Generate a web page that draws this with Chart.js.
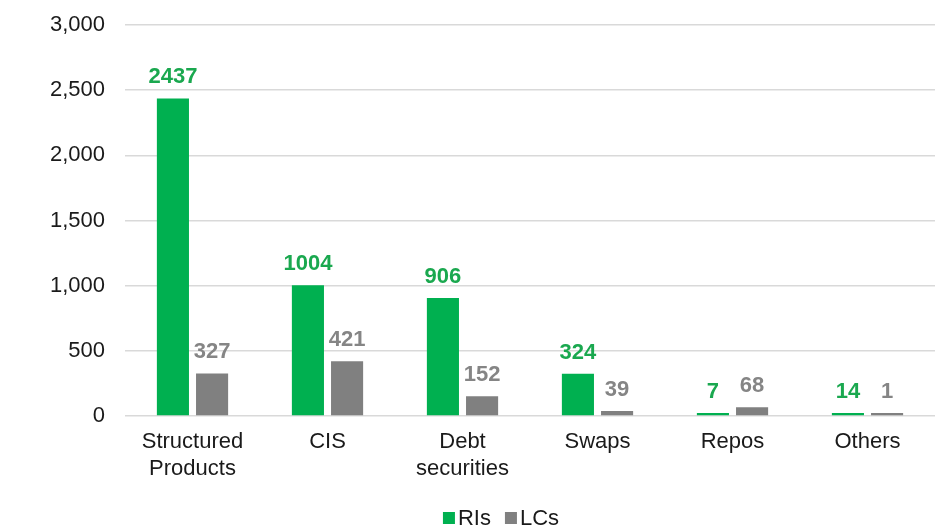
<!DOCTYPE html>
<html>
<head>
<meta charset="utf-8">
<script src="https://cdn.jsdelivr.net/npm/chart.js@4/dist/chart.umd.min.js"></script>
<style>
  html, body { margin: 0; padding: 0; background: #ffffff; }
  #wrap { width: 950px; height: 530px; }
</style>
</head>
<body>
<div id="wrap"><canvas id="c" width="950" height="530"></canvas></div>
<script>
// Product categories and counts per entity type
const categories = [['Structured', 'Products'], 'CIS', ['Debt', 'securities'], 'Swaps', 'Repos', 'Others'];
const riValues = [2437, 1004, 906, 324, 7, 14];
const lcValues = [327, 421, 152, 39, 68, 1];
const yTicks = [0, 500, 1000, 1500, 2000, 2500, 3000];

const GREEN = '#00b050';
const GREY = '#808080';
const FONT = "'Liberation Sans', Arial, sans-serif";
const TEXT = '#1a1a1a';

// Writes each bar's value above it, in the bar's own colour
const valueLabels = {
  id: 'valueLabels',
  afterDatasetsDraw(chart) {
    const ctx = chart.ctx;
    ctx.save();
    ctx.font = 'bold 22px ' + FONT;
    ctx.textAlign = 'center';
    ctx.textBaseline = 'alphabetic';
    chart.data.datasets.forEach((ds, i) => {
      const meta = chart.getDatasetMeta(i);
      ctx.fillStyle = ds.labelColor;
      meta.data.forEach((bar, j) => {
        ctx.fillText(String(ds.data[j]), bar.x, bar.y - 15);
      });
    });
    ctx.restore();
  }
};

// Compact legend under the axis: small square followed closely by the series name
const compactLegend = {
  id: 'compactLegend',
  afterDraw(chart) {
    const ctx = chart.ctx;
    const box = 12, gapText = 3, gapItem = 14, cy = 518;
    ctx.save();
    ctx.font = '22px ' + FONT;
    ctx.textBaseline = 'middle';
    const items = chart.data.datasets.map(ds => ({
      label: ds.label, color: ds.backgroundColor, w: ctx.measureText(ds.label).width
    }));
    const total = items.reduce((s, it) => s + box + gapText + it.w, 0) + gapItem * (items.length - 1);
    let x = 501 - total / 2;
    items.forEach(it => {
      ctx.fillStyle = it.color;
      ctx.fillRect(x, cy - box / 2, box, box);
      x += box + gapText;
      ctx.fillStyle = TEXT;
      ctx.fillText(it.label, x, cy + 1);
      x += it.w + gapItem;
    });
    ctx.restore();
  }
};

new Chart(document.getElementById('c'), {
  type: 'bar',
  data: {
    labels: categories,
    datasets: [
      { label: 'RIs', data: riValues, backgroundColor: GREEN, labelColor: '#1aa84f', minBarLength: 3,
        categoryPercentage: 0.58, barPercentage: 0.82 },
      { label: 'LCs', data: lcValues, backgroundColor: GREY, labelColor: '#858585', minBarLength: 3,
        categoryPercentage: 0.58, barPercentage: 0.82 }
    ]
  },
  options: {
    responsive: false,
    animation: false,
    devicePixelRatio: 1,
    layout: { padding: { top: 25, right: 15, bottom: 40, left: 0 } },
    plugins: {
      tooltip: { enabled: false },
      legend: { display: false }
    },
    scales: {
      x: {
        grid: { display: false, drawTicks: false },
        border: { display: false },
        ticks: {
          font: { family: FONT, size: 22 },
          color: TEXT,
          padding: 13,
          maxRotation: 0,
          autoSkip: false
        },
        afterFit(scale) { scale.height = 74; }
      },
      y: {
        min: 0,
        max: 3000,
        afterBuildTicks(scale) { scale.ticks = yTicks.map(v => ({ value: v })); },
        grid: { color: '#d9d9d9', lineWidth: 1.5, drawTicks: false },
        border: { display: false },
        ticks: {
          font: { family: FONT, size: 22 },
          color: TEXT,
          padding: 20,
          callback: v => v.toLocaleString('en-US')
        },
        afterFit(scale) {
          scale.width = 125;
          scale.paddingTop = 0;
          scale.paddingBottom = 0;
        }
      }
    }
  },
  plugins: [valueLabels, compactLegend]
});
</script>
</body>
</html>
